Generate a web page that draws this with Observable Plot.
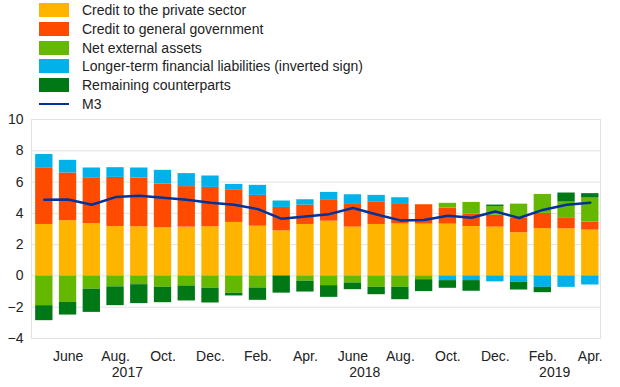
<!DOCTYPE html>
<html><head><meta charset="utf-8">
<script src="https://cdn.jsdelivr.net/npm/d3@7"></script>
<script src="https://cdn.jsdelivr.net/npm/@observablehq/plot@0.6"></script>
<style>
body{margin:0;background:#fff;font-family:"Liberation Sans",Arial,sans-serif;}
#legend{position:relative;height:110px;width:620px;}
.row{position:absolute;left:39px;height:14px;display:flex;align-items:center;font-size:14px;color:#222;white-space:nowrap;}
.sw{width:30px;height:14px;margin-right:13px;display:flex;align-items:center;}
</style></head><body>
<div id="legend"></div><div id="chart"></div>
<script>
// Periods (monthly, May 2017 - Apr 2019)
const periods = ["2017-05","2017-06","2017-07","2017-08","2017-09","2017-10","2017-11","2017-12",
  "2018-01","2018-02","2018-03","2018-04","2018-05","2018-06","2018-07","2018-08","2018-09","2018-10","2018-11","2018-12",
  "2019-01","2019-02","2019-03","2019-04"];
const monthNames = ["Jan.","Feb.","Mar.","Apr.","May","June","July","Aug.","Sep.","Oct.","Nov.","Dec."];
const tickPeriods = ["2017-06","2017-08","2017-10","2017-12","2018-02","2018-04","2018-06","2018-08","2018-10","2018-12","2019-02","2019-04"];
const yearLabels = ["2017","2018","2019"];
const yearAnchors = ["2017-08","2018-06","2019-02"];

const seriesNames = ["Credit to the private sector","Credit to general government","Net external assets","Longer-term financial liabilities (inverted sign)","Remaining counterparts"];
const seriesColors = ["#FFB400","#FF4B00","#65B800","#00B1EA","#007816"];

const privateSector = [3.29,3.53,3.35,3.16,3.14,3.08,3.12,3.14,3.42,3.18,2.88,3.29,3.50,3.12,3.29,3.32,3.31,3.31,3.16,3.12,2.76,3.03,3.01,2.93];
const government    = [3.59,3.05,2.89,3.14,3.12,2.80,2.59,2.52,2.09,1.97,1.50,1.24,1.33,1.50,1.45,1.25,1.24,1.03,0.79,0.76,0.94,0.97,0.71,0.51];
const netExternal   = [-1.90,-1.69,-0.85,-0.70,-0.56,-0.73,-0.64,-0.79,-1.11,-0.77,0.00,-0.34,-0.62,-0.45,-0.73,-0.73,-0.24,0.30,0.75,0.56,0.89,1.21,1.00,1.54];
const longerTerm    = [0.88,0.81,0.66,0.62,0.64,0.87,0.83,0.73,0.34,0.64,0.41,0.34,0.51,0.57,0.41,0.43,0.00,-0.30,-0.30,-0.38,-0.41,-0.73,-0.73,-0.58];
const remaining     = [-0.96,-0.81,-1.48,-1.20,-1.21,-0.98,-0.96,-0.94,-0.17,-0.79,-1.10,-0.69,-0.75,-0.43,-0.47,-0.79,-0.76,-0.49,-0.68,0.09,-0.49,-0.34,0.58,0.28];
const m3            = [4.87,4.89,4.55,5.04,5.13,5.00,4.87,4.68,4.55,4.27,3.65,3.80,3.95,4.34,3.93,3.55,3.57,3.85,3.72,4.12,3.70,4.22,4.55,4.68];

const seriesValues = [privateSector, government, netExternal, longerTerm, remaining];
const stackData = [];
seriesNames.forEach((s, k) => periods.forEach((p, i) => stackData.push({period: p, series: s, value: seriesValues[k][i]})));
const m3Data = periods.map((p, i) => ({period: p, value: m3[i]}));
const yearData = yearLabels.map((y, i) => ({year: y, period: yearAnchors[i]}));

// Legend
const legend = document.getElementById("legend");
seriesNames.forEach((s, k) => {
  const row = document.createElement("div");
  row.className = "row";
  row.style.top = (3.3 + k * 18.7) + "px";
  row.innerHTML = `<div class="sw" style="background:${seriesColors[k]}"></div><span>${s}</span>`;
  legend.appendChild(row);
});
{
  const row = document.createElement("div");
  row.className = "row";
  row.style.top = (3.3 + 5 * 18.7) + "px";
  row.innerHTML = `<div class="sw"><div style="width:30px;height:2.5px;background:#003299"></div></div><span>M3</span>`;
  legend.appendChild(row);
}

const paddingInner = 0.27, paddingOuter = 0.12;
const W = 620, mL = 31, mR = 20;
const step = (W - mL - mR) / (periods.length - paddingInner + 2 * paddingOuter);

const chart = Plot.plot({
  width: W, height: 277,
  marginTop: 9, marginBottom: 49, marginLeft: mL, marginRight: mR,
  style: {fontFamily: "'Liberation Sans', Arial, sans-serif", fontSize: "14px", color: "#222", background: "white"},
  x: {type: "band", domain: periods, paddingInner, paddingOuter, align: 0.73, round: false, label: null},
  y: {domain: [-4, 10], label: null},
  color: {domain: seriesNames, range: seriesColors},
  marks: [
    Plot.gridY({ticks: d3.range(-4, 11, 2), stroke: "#e2e2e2", strokeOpacity: 1, strokeWidth: 1}),
    Plot.frame({stroke: "#e2e2e2", strokeWidth: 1}),
    Plot.barY(stackData, {x: "period", y: "value", fill: "series"}),
    Plot.lineY(m3Data, {x: "period", y: "value", stroke: "#003299", strokeWidth: 2.5}),
    Plot.axisY({ticks: d3.range(-4, 11, 2), tickSize: 0, tickPadding: 8, label: null}),
    Plot.axisX({ticks: tickPeriods, tickSize: 0, tickPadding: 13, label: null,
      tickFormat: d => monthNames[+d.slice(5) - 1]}),
    Plot.text(yearData, {x: "period", text: "year", frameAnchor: "bottom", lineAnchor: "top", dy: 29, dx: step / 2, fill: "#222"})
  ]
});
document.getElementById("chart").appendChild(chart);
</script></body></html>
